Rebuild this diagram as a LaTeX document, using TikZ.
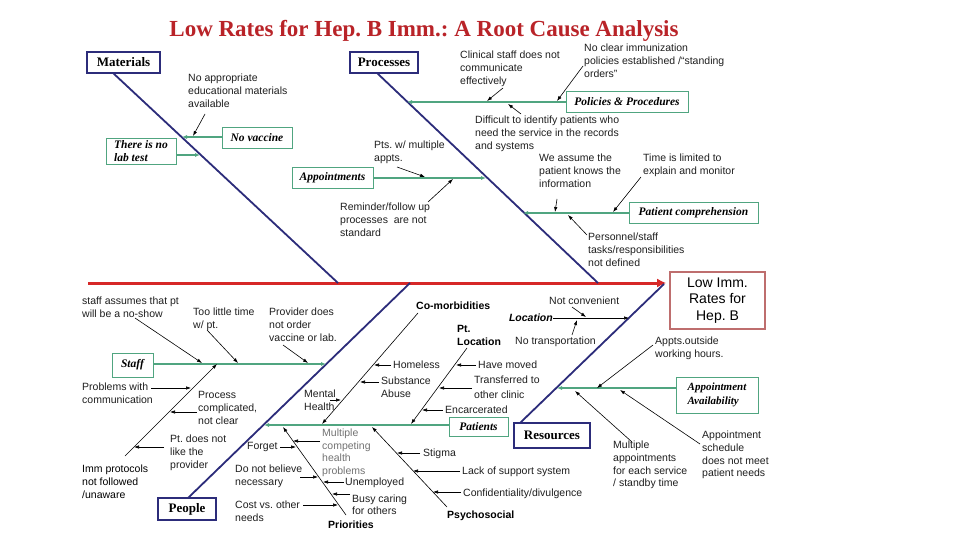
\documentclass[tikz,border=0pt]{standalone}
\usepackage{fontspec}
\setmainfont{Liberation Serif}
\setsansfont{Liberation Sans}
\usetikzlibrary{arrows.meta,calc}
\definecolor{navy}{RGB}{44,44,122}
\definecolor{grn}{RGB}{80,165,128}
\definecolor{spred}{RGB}{214,40,40}
\definecolor{ttlred}{RGB}{185,35,40}
\definecolor{effred}{RGB}{190,110,110}
\begin{document}
\frenchspacing
\begin{tikzpicture}[x=1pt,y=-1pt,
  cause/.style={anchor=north west, inner sep=0pt, align=left, text=black!88, font=\sffamily\fontsize{10.5}{13}\selectfont},
  blabel/.style={anchor=north west, inner sep=0pt, align=left, text=black, font=\sffamily\bfseries\fontsize{10.5}{13}\selectfont},
  catbox/.style={draw=navy, line width=1.6pt, fill=white, inner sep=0pt, font=\bfseries\fontsize{13}{15}\selectfont},
  subbox/.style={draw=grn, line width=0.9pt, fill=white, inner sep=0pt, font=\bfseries\itshape\fontsize{11.5}{13.5}\selectfont},
  bone/.style={draw=navy, line width=1.8pt},
  gline/.style={draw=grn, line width=1.1pt, -{Latex[length=5pt,width=4pt]}},
  arr/.style={draw=black, line width=0.6pt, -{Latex[length=5pt,width=3.5pt]}}
]
\fill[white] (0,0) rectangle (960,540);
\useasboundingbox (0,0) rectangle (960,540);

% title
\node[anchor=base, inner sep=0pt, text=ttlred, font=\bfseries\fontsize{23}{26}\selectfont] (ttl) at (424,37) {Low Rates for Hep. B Imm.: A Root Cause Analysis};

% effect
\node[draw=effred, line width=1.6pt, fill=white, minimum width=95pt, minimum height=57pt, inner sep=0pt, align=center, font=\sffamily\fontsize{14}{16.5}\selectfont] (eff) at (717.5,300.5) {Low Imm.\\Rates for\\Hep. B};

% bones
\coordinate (m0) at (113,73);  \coordinate (m1) at (338,283);
\coordinate (p0) at (377,73);  \coordinate (p1) at (598,283);
\coordinate (q0) at (188,498); \coordinate (q1) at (410,283);
\coordinate (r0) at (520,423); \coordinate (r1) at (664,284);
\coordinate (spL) at (88,283);
\draw[draw=spred, line width=3pt, -{Latex[length=9pt,width=9pt]}] (spL) -- ($(spL -| eff.west)+(-3,0)$);
\draw[bone] (m0) -- (m1);
\draw[bone] (p0) -- (p1);
\draw[bone] (q0) -- (q1);
\draw[bone] (r0) -- (r1);

% category boxes
\node[catbox, minimum width=73pt, minimum height=21pt] (mat) at (123.5,62.5) {Materials};
\node[catbox, minimum width=68pt, minimum height=21pt] (proc) at (384,62.5) {Processes};
\node[catbox, minimum width=58pt, minimum height=22pt] (ppl) at (187,509) {People};
\node[catbox, minimum width=76pt, minimum height=25pt] (res) at (552,435.5) {Resources};

% ---------- Materials
\node[subbox, minimum width=70pt, minimum height=21pt] (novac) at (257,137.5) {No vaccine};
\coordinate (novT) at (182,137);
\draw[gline] (novac.west |- novT) -- (novT);
\node[subbox, minimum width=70pt, minimum height=26pt, align=left] (nolab) at (141,151) {There is no\\lab test};
\coordinate (nolT) at (200,155);
\draw[gline] (nolab.east |- nolT) -- (nolT);
\node[cause] (t1) at (188,74) {No appropriate\\educational materials\\available};
\coordinate (a1a) at (205,114); \coordinate (a1b) at (193,136);
\draw[arr] (a1a) -- (a1b);

% ---------- Processes
\node[subbox, minimum width=122pt, minimum height=21pt] (pol) at (627,101.5) {Policies \& Procedures};
\coordinate (polT) at (407,102);
\draw[gline] (pol.west |- polT) -- (polT);
\node[cause] (t2) at (460,51) {Clinical staff does not\\communicate\\effectively};
\coordinate (a2a) at (503,88); \coordinate (a2b) at (487,101);
\draw[arr] (a2a) -- (a2b);
\node[cause] (t3) at (584,44) {No clear immunization\\policies established /“standing\\orders”};
\coordinate (a3a) at (583,66); \coordinate (a3b) at (557,101);
\draw[arr] (a3a) -- (a3b);
\node[cause] (t4) at (475,116) {Difficult to identify patients who\\need the service in the records\\and systems};
\coordinate (a4a) at (521,114); \coordinate (a4b) at (508,104);
\draw[arr] (a4a) -- (a4b);

\node[subbox, minimum width=81pt, minimum height=21pt] (appt) at (332.5,177.5) {Appointments};
\coordinate (apT) at (486,178);
\draw[gline] (appt.east |- apT) -- (apT);
\node[cause] (t5) at (374,141) {Pts. w/ multiple\\appts.};
\coordinate (a5a) at (397,167); \coordinate (a5b) at (425,177);
\draw[arr] (a5a) -- (a5b);
\node[cause] (t6) at (340,203) {Reminder/follow up\\processes\ \ are not\\standard};
\coordinate (a6a) at (428,202); \coordinate (a6b) at (453,179);
\draw[arr] (a6a) -- (a6b);

\node[subbox, minimum width=129pt, minimum height=21pt] (pc) at (693.5,212.5) {Patient comprehension};
\coordinate (pcT) at (523,213);
\draw[gline] (pc.west |- pcT) -- (pcT);
\node[cause] (t7) at (539,154) {We assume the\\patient knows the\\information};
\coordinate (a7a) at (557,199); \coordinate (a7b) at (555,212);
\draw[arr] (a7a) -- (a7b);
\node[cause] (t8) at (643,154) {Time is limited to\\explain and monitor};
\coordinate (a8a) at (641,177); \coordinate (a8b) at (613,212);
\draw[arr] (a8a) -- (a8b);
\node[cause] (t9) at (588,233) {Personnel/staff\\tasks/responsibilities\\not defined};
\coordinate (a9a) at (587,235); \coordinate (a9b) at (568,215);
\draw[arr] (a9a) -- (a9b);

% ---------- People: Staff
\node[subbox, minimum width=41pt, minimum height=24pt] (staff) at (132.5,365) {Staff};
\coordinate (stT) at (326,364);
\draw[gline] (staff.east |- stT) -- (stT);
\node[cause] (s1) at (82,297) {staff assumes that pt\\will be a no-show};
\coordinate (b1a) at (135,318); \coordinate (b1b) at (202,363);
\draw[arr] (b1a) -- (b1b);
\node[cause] (s2) at (193,308) {Too little time\\w/ pt.};
\coordinate (b2a) at (207,330); \coordinate (b2b) at (238,363);
\draw[arr] (b2a) -- (b2b);
\node[cause] (s3) at (269,308) {Provider does\\not order\\vaccine or lab.};
\coordinate (b3a) at (283,345); \coordinate (b3b) at (308,363);
\draw[arr] (b3a) -- (b3b);
\coordinate (sdA) at (125,456); \coordinate (sdB) at (217,364);
\draw[arr] (sdA) -- (sdB);
\node[cause] (s4) at (82,383) {Problems with\\communication};
\coordinate (b4a) at (151,388); \coordinate (b4b) at (191,388);
\draw[arr] (b4a) -- (b4b);
\node[cause] (s5) at (198,391) {Process\\complicated,\\not clear};
\coordinate (b5a) at (197,412); \coordinate (b5b) at (170,412);
\draw[arr] (b5a) -- (b5b);
\node[cause] (s6) at (170,435) {Pt. does not\\like the\\provider};
\coordinate (b6a) at (164,447); \coordinate (b6b) at (134,447);
\draw[arr] (b6a) -- (b6b);
\node[cause, text=black] (s7) at (82,465) {Imm protocols\\not followed\\/unaware};

% ---------- People: Patients
\node[subbox, minimum width=59pt, minimum height=19pt] (pat) at (478.5,426.5) {Patients};
\coordinate (paT) at (264,425);
\draw[gline] (pat.west |- paT) -- (paT);

% Co-morbidities
\node[blabel] (cm) at (416,302) {Co-morbidities};
\coordinate (cmA) at (418,313); \coordinate (cmB) at (322,424);
\draw[arr] (cmA) -- (cmB);
\node[cause] (h1) at (393,361) {Homeless};
\coordinate (h1a) at (391,365); \coordinate (h1b) at (374,365);
\draw[arr] (h1a) -- (h1b);
\node[cause] (h2) at (381,377) {Substance\\Abuse};
\coordinate (h2a) at (379,382); \coordinate (h2b) at (360,382);
\draw[arr] (h2a) -- (h2b);
\node[cause] (h3) at (304,390) {Mental\\Health};
\coordinate (h3a) at (330,400); \coordinate (h3b) at (341,400);
\draw[arr] (h3a) -- (h3b);

% Pt. Location
\node[blabel] (pl) at (457,325) {Pt.\\Location};
\coordinate (plA) at (467,348); \coordinate (plB) at (411,424);
\draw[arr] (plA) -- (plB);
\node[cause] (l1) at (478,361) {Have moved};
\coordinate (l1a) at (476,365); \coordinate (l1b) at (456,365);
\draw[arr] (l1a) -- (l1b);
\node[cause, font=\sffamily\fontsize{10.5}{14.5}\selectfont] (l2) at (474,376) {Transferred to\\other clinic};
\coordinate (l2a) at (472,388); \coordinate (l2b) at (439,388);
\draw[arr] (l2a) -- (l2b);
\node[cause] (l3) at (445,406) {Encarcerated};
\coordinate (l3a) at (443,410); \coordinate (l3b) at (422,410);
\draw[arr] (l3a) -- (l3b);

% Priorities
\node[blabel] (pr) at (328,521) {Priorities};
\coordinate (prA) at (346,515); \coordinate (prB) at (283,427);
\draw[arr] (prA) -- (prB);
\node[cause] (r1t) at (247,442) {Forget};
\coordinate (p1a) at (280,447); \coordinate (p1b) at (296,447);
\draw[arr] (p1a) -- (p1b);
\node[cause, text=black!55, font=\sffamily\fontsize{10.5}{12.4}\selectfont] (r2t) at (322,429) {Multiple\\competing\\health\\problems};
\coordinate (p2a) at (320,441); \coordinate (p2b) at (293,441);
\draw[arr] (p2a) -- (p2b);
\node[cause] (r3t) at (235,465) {Do not believe\\necessary};
\coordinate (p3a) at (300,477); \coordinate (p3b) at (318,477);
\draw[arr] (p3a) -- (p3b);
\node[cause] (r4t) at (345,478) {Unemployed};
\coordinate (p4a) at (344,482); \coordinate (p4b) at (323,482);
\draw[arr] (p4a) -- (p4b);
\node[cause, font=\sffamily\fontsize{10.5}{12}\selectfont] (r5t) at (352,495) {Busy caring\\for others};
\coordinate (p5a) at (350,494); \coordinate (p5b) at (332,494);
\draw[arr] (p5a) -- (p5b);
\node[cause] (r6t) at (235,501) {Cost vs. other\\needs};
\coordinate (p6a) at (303,505); \coordinate (p6b) at (338,505);
\draw[arr] (p6a) -- (p6b);

% Psychosocial
\node[blabel] (ps) at (447,511) {Psychosocial};
\coordinate (psA) at (447,507); \coordinate (psB) at (372,427);
\draw[arr] (psA) -- (psB);
\node[cause] (y1) at (423,449) {Stigma};
\coordinate (y1a) at (420,453); \coordinate (y1b) at (397,453);
\draw[arr] (y1a) -- (y1b);
\node[cause] (y2) at (462,467) {Lack of support system};
\coordinate (y2a) at (460,471); \coordinate (y2b) at (413,471);
\draw[arr] (y2a) -- (y2b);
\node[cause] (y3) at (463,489) {Confidentiality/divulgence};
\coordinate (y3a) at (461,492); \coordinate (y3b) at (433,492);
\draw[arr] (y3a) -- (y3b);

% ---------- Resources
\node[anchor=east, inner sep=0pt, font=\sffamily\bfseries\itshape\fontsize{10.5}{13}\selectfont] (loc) at (553,318) {Location};
\coordinate (loT) at (629,318);
\draw[arr] (loc.east) -- (loT);
\node[cause] (n1) at (549,297) {Not convenient};
\coordinate (c1a) at (572,307); \coordinate (c1b) at (586,317);
\draw[arr] (c1a) -- (c1b);
\node[cause] (n2) at (515,337) {No transportation};
\coordinate (c2a) at (572,335); \coordinate (c2b) at (577,320);
\draw[arr] (c2a) -- (c2b);

\node[subbox, minimum width=82pt, minimum height=36pt, align=left, font=\bfseries\itshape\fontsize{11}{14}\selectfont] (aa) at (717,395) {Appointment\\Availability};
\coordinate (aaT) at (557,388);
\draw[gline] (aa.west |- aaT) -- (aaT);
\node[cause] (n3) at (655,337) {Appts.outside\\working hours.};
\coordinate (c3a) at (653,345); \coordinate (c3b) at (597,388);
\draw[arr] (c3a) -- (c3b);
\node[cause, font=\sffamily\fontsize{10.5}{12.7}\selectfont] (n4) at (613,441) {Multiple\\appointments\\for each service\\/ standby time};
\coordinate (c4a) at (632,442); \coordinate (c4b) at (575,391);
\draw[arr] (c4a) -- (c4b);
\node[cause, font=\sffamily\fontsize{10.5}{12.7}\selectfont] (n5) at (702,431) {Appointment\\schedule\\does not meet\\patient needs};
\coordinate (c5a) at (700,444); \coordinate (c5b) at (620,390);
\draw[arr] (c5a) -- (c5b);
\end{tikzpicture}
\end{document}
